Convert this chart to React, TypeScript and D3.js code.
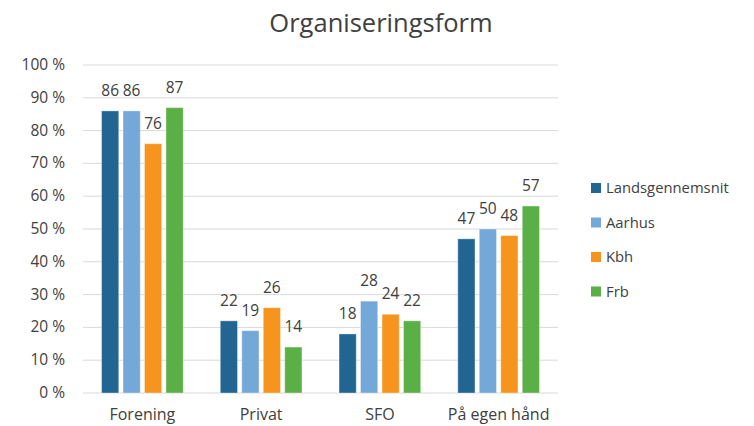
import React from 'react';
import * as d3 from 'd3';

const categories = ['Forening', 'Privat', 'SFO', 'På egen hånd'];
const seriesNames = ['Landsgennemsnit', 'Aarhus', 'Kbh', 'Frb'];
const landsgennemsnit = [86, 22, 18, 47];
const aarhus = [86, 19, 28, 50];
const kbh = [76, 26, 24, 48];
const frb = [87, 14, 22, 57];
const yTicks = [0, 10, 20, 30, 40, 50, 60, 70, 80, 90, 100];
const colors = ['#236592', '#74A8D8', '#F7941E', '#5AB046'];

const W = 754;
const H = 426;
const margin = { top: 65, right: 196, bottom: 33, left: 83 };
const font = '"Open Sans", sans-serif';
const textColor = '#404040';

export default function App() {
  const values = [landsgennemsnit, aarhus, kbh, frb];
  const innerW = W - margin.left - margin.right;
  const x0 = d3.scaleBand().domain(categories).range([margin.left, W - margin.right]).padding(0);
  const groupPad = 16.4;
  const x1 = d3
    .scaleBand()
    .domain(seriesNames)
    .range([groupPad, x0.bandwidth() - groupPad])
    .paddingInner(0.2)
    .paddingOuter(0.1);
  const y = d3.scaleLinear().domain([0, 100]).range([H - margin.bottom, margin.top]);

  return (
    <svg width={W} height={H} style={{ position: 'absolute', left: 0, top: 0, background: '#fff' }}>
      <text x={381} y={32} textAnchor="middle" fontFamily={font} fontSize={25.5} fill={textColor}>
        Organiseringsform
      </text>

      {yTicks.map((t) => (
        <g key={t}>
          <line x1={margin.left} x2={margin.left + innerW} y1={y(t)} y2={y(t)} stroke="#D9D9D9" strokeWidth={1} />
          <text x={65} y={y(t) + 5} textAnchor="end" fontFamily={font} fontSize={15.5} fill={textColor}>
            {t} %
          </text>
        </g>
      ))}

      {categories.map((c, ci) => (
        <g key={c} transform={`translate(${x0(c)},0)`}>
          {seriesNames.map((s, si) => {
            const v = values[si][ci];
            const bx = x1(s) as number;
            return (
              <g key={s}>
                <rect
                  x={bx}
                  y={y(v)}
                  width={x1.bandwidth()}
                  height={y(0) - y(v)}
                  fill={colors[si]}
                  stroke="#ffffff"
                  strokeOpacity={0.35}
                  strokeWidth={1}
                />
                <text
                  x={bx + x1.bandwidth() / 2}
                  y={y(v) - 15}
                  textAnchor="middle"
                  fontFamily={font}
                  fontSize={15.5}
                  fill={textColor}
                >
                  {v}
                </text>
              </g>
            );
          })}
          <text
            x={x0.bandwidth() / 2}
            y={420}
            textAnchor="middle"
            fontFamily={font}
            fontSize={16}
            fill={textColor}
          >
            {c}
          </text>
        </g>
      ))}

      {seriesNames.map((s, i) => (
        <g key={s} transform={`translate(591, ${188 + i * 34.5})`}>
          <rect x={0} y={-5} width={10} height={10} fill={colors[i]} />
          <text x={15} y={5} fontFamily={font} fontSize={14.8} fill={textColor}>
            {s}
          </text>
        </g>
      ))}
    </svg>
  );
}
